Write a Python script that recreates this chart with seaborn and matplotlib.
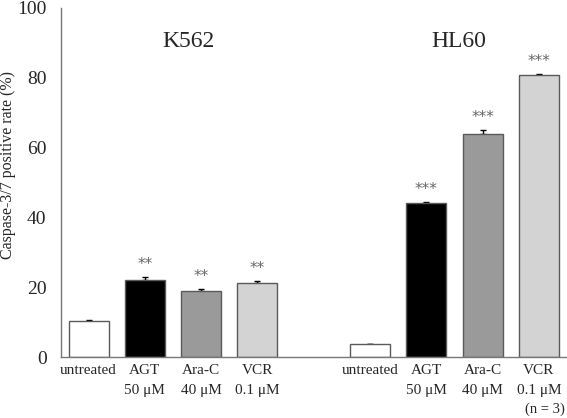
import numpy as np
import pandas as pd
import matplotlib
matplotlib.use("Agg")
import matplotlib.pyplot as plt
import seaborn as sns

# ---- data ----
cell_lines = ["K562", "HL60"]
treatments = ["untreated", "AGT", "Ara-C", "VCR"]
tick_labels = ["untreated", "AGT\n50 μM", "Ara-C\n40 μM", "VCR\n0.1 μM"]
k562_values = [10.3, 22.0, 18.8, 21.1]
k562_errors = [0.2, 0.8, 0.6, 0.7]
hl60_values = [3.6, 44.0, 63.8, 80.7]
hl60_errors = [0.2, 0.3, 1.2, 0.3]
k562_stars = ["", "**", "**", "**"]
hl60_stars = ["", "***", "***", "***"]
colors = {"untreated": "#ffffff", "AGT": "#000000", "Ara-C": "#9a9a9a", "VCR": "#d3d3d3"}

positions = [0, 1, 2, 3, 5, 6, 7, 8]
df = pd.DataFrame({
    "pos": positions,
    "value": k562_values + hl60_values,
    "err": k562_errors + hl60_errors,
    "treatment": treatments * 2,
    "stars": k562_stars + hl60_stars,
})

sns.set_style("white")
plt.rcParams["font.family"] = ["Liberation Serif", "DejaVu Serif"]

fig = plt.figure(figsize=(5.67, 4.18), dpi=100)
ax = fig.add_axes([60.5 / 567, 61 / 418, 506.5 / 567, 349.5 / 418])

sns.barplot(data=df, x="pos", y="value", hue="treatment", palette=colors,
            native_scale=True, dodge=False, width=0.71, errorbar=None,
            edgecolor="#5a5a5a", linewidth=1.0, legend=False, ax=ax, zorder=2)

ax.errorbar(df["pos"], df["value"], yerr=[np.zeros(len(df)), df["err"]],
            fmt="none", ecolor="black", elinewidth=1.0, capsize=2.5,
            capthick=1.0, zorder=1)

for p, v, e, s in zip(df["pos"], df["value"], df["err"], df["stars"]):
    if s:
        ax.text(p, v + e + 3.6, s, ha="center", va="center", fontsize=11,
                color="#666666", family="DejaVu Sans")

ax.text(1.78, 90.3, cell_lines[0], ha="center", va="center", fontsize=17)
ax.text(6.58, 90.3, cell_lines[1], ha="center", va="center", fontsize=17)

ax.set_xlim(-0.5, 8.5)
ax.set_ylim(0, 100)
ax.set_yticks([0, 20, 40, 60, 80, 100])
ax.set_xticks(positions)
ax.set_xticklabels(tick_labels * 2, fontsize=11, linespacing=1.75, va="top")
ax.tick_params(axis="x", length=0, pad=5)
ax.tick_params(axis="y", direction="in", length=5, width=1, color="#777777",
               labelsize=14, pad=10)

for side in ["top", "right"]:
    ax.spines[side].set_visible(False)
for side in ["left", "bottom"]:
    ax.spines[side].set_color("#777777")
    ax.spines[side].set_linewidth(1.0)

ax.set_xlabel("")
ax.set_ylabel("Caspase-3/7 positive rate (%)", fontsize=11.5)
ax.yaxis.set_label_coords(-0.088, 0.55)

fig.text(565 / 567, 1 - 409 / 418, "(n = 3)", ha="right", va="center", fontsize=10.5)

fig.savefig("out.png", dpi=100)
